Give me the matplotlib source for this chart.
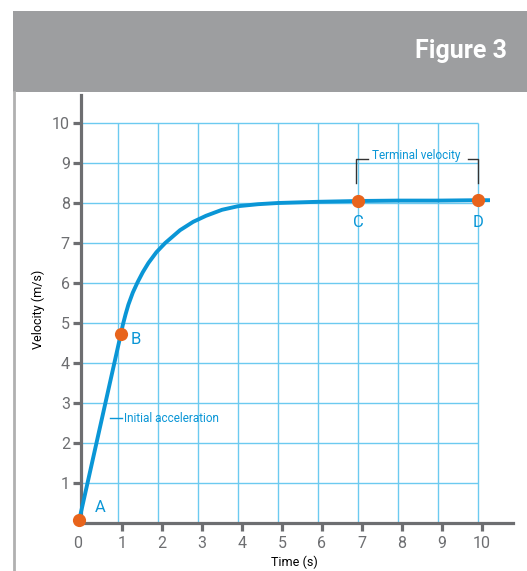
import matplotlib
matplotlib.use("Agg")
import matplotlib.pyplot as plt
from matplotlib.patches import Rectangle
from matplotlib.lines import Line2D

# ---- data ----
time_s = [0.03, 1.07, 1.12, 1.19, 1.26, 1.37, 1.49, 1.62, 1.76, 1.96, 2.18, 2.55, 2.88, 3.2,
          3.6, 4.0, 4.5, 5.0, 6.0, 7.0, 8.0, 9.0, 10.0, 10.3]
velocity = [0.07, 4.72, 4.95, 5.22, 5.46, 5.76, 6.02, 6.27, 6.5, 6.77, 7.0, 7.32, 7.53, 7.68,
            7.83, 7.92, 7.97, 8.0, 8.03, 8.05, 8.06, 8.06, 8.07, 8.07]
point_labels = ["A", "B", "C", "D"]
point_t = [0.03, 1.07, 7.0, 10.0]
point_v = [0.07, 4.72, 8.05, 8.07]
x_ticks = [0, 1, 2, 3, 4, 5, 6, 7, 8, 9, 10]
y_ticks = [1, 2, 3, 4, 5, 6, 7, 8, 9, 10]

W, H = 527, 571
fig = plt.figure(figsize=(W / 100, H / 100), dpi=100)
fig.patch.set_facecolor("white")

FONT = "Roboto"
BLUE = "#0a96d6"
GRID = "#6ccaf0"
AXC = "#6d6e71"
ORANGE = "#e8641c"

# header band
fig.patches.append(Rectangle((13 / W, 1 - 92 / H), 1 - 13 / W, 81 / H,
                             transform=fig.transFigure, facecolor="#9d9ea0",
                             edgecolor="none"))
fig.text(507 / W, 1 - 51 / H, "Figure 3", color="white", fontsize=18,
         fontweight="bold", family=FONT, ha="right", va="center")
fig.lines.append(Line2D([14 / W, 14 / W], [0, 1 - 92 / H], transform=fig.transFigure,
                        color="#b0b0b0", lw=2))

# axes: x_pix = 78 + 40*x ; y_pix = 523 - 40*v
x0, x1 = -0.1, 10.9
y0, y1 = 0.0, 10.7
left = (78 + 40 * x0) / W
width = 40 * (x1 - x0) / W
bottom = (H - 523) / H
height = 40 * (y1 - y0) / H
ax = fig.add_axes([left, bottom, width, height])
ax.set_xlim(x0, x1)
ax.set_ylim(y0, y1)
ax.set_facecolor("none")

yax = 0.075
# grid
ax.hlines(y_ticks, yax, 10, colors=GRID, lw=1.0, zorder=1)
ax.vlines(x_ticks[1:], 0, 10, colors=GRID, lw=1.0, zorder=1)

for s in ["top", "right"]:
    ax.spines[s].set_visible(False)
ax.spines["left"].set_position(("data", yax))
ax.spines["left"].set_bounds(0, y1)
ax.spines["bottom"].set_bounds(yax, 10.88)
for s in ["left", "bottom"]:
    ax.spines[s].set_color(AXC)
    ax.spines[s].set_linewidth(2.3)
    ax.spines[s].set_zorder(3)

ax.set_xticks([t + 0.1 for t in x_ticks[1:]])
ax.set_xticklabels([str(t) for t in x_ticks[1:]])
ax.set_yticks(y_ticks)
ax.set_yticklabels([str(t) for t in y_ticks])
ax.tick_params(axis="both", direction="out", length=6, width=2.3, color=AXC,
               labelcolor=AXC, labelsize=11.5)
ax.tick_params(axis="x", pad=3)
ax.tick_params(axis="y", pad=2)
for lab in ax.get_xticklabels() + ax.get_yticklabels():
    lab.set_family(FONT)
ax.text(0.0, -0.33, "0", color=AXC, fontsize=11.5, family=FONT, ha="center", va="top")

ax.set_ylabel("Velocity (m/s)", family=FONT, fontsize=9, color="black", labelpad=5)
ax.set_xlabel("Time (s)", family=FONT, fontsize=9, color="black", labelpad=4)

# curve
ax.plot(time_s, velocity, color=BLUE, lw=2.8, zorder=4, clip_on=False,
        solid_capstyle="butt", solid_joinstyle="round")
ax.scatter(point_t, point_v, s=90, color=ORANGE, zorder=5, clip_on=False, linewidths=0)

# point labels
ax.text(0.55, 0.38, "A", color=BLUE, fontsize=12, family=FONT, ha="center", va="center")
ax.text(1.45, 4.58, "B", color=BLUE, fontsize=12, family=FONT, ha="center", va="center")
ax.text(7.0, 7.52, "C", color=BLUE, fontsize=12, family=FONT, ha="center", va="center")
ax.text(10.0, 7.52, "D", color=BLUE, fontsize=12, family=FONT, ha="center", va="center")

# initial acceleration annotation
ax.plot([0.8, 1.1], [2.62, 2.62], color=BLUE, lw=1, zorder=4)
ax.text(1.15, 2.62, "Initial acceleration", color=BLUE, fontsize=8.5, family=FONT,
        ha="left", va="center")

# terminal velocity bracket
yb_top, yb_bot = 9.1, 8.5
ax.plot([6.95, 6.95, 7.25], [yb_bot, yb_top, yb_top], color="#333333", lw=1, zorder=4)
ax.plot([9.75, 10.0, 10.0], [yb_top, yb_top, yb_bot], color="#333333", lw=1, zorder=4)
ax.text(8.45, 9.18, "Terminal velocity", color=BLUE, fontsize=8.5, family=FONT,
        ha="center", va="center")

fig.savefig("out.png", dpi=100)
